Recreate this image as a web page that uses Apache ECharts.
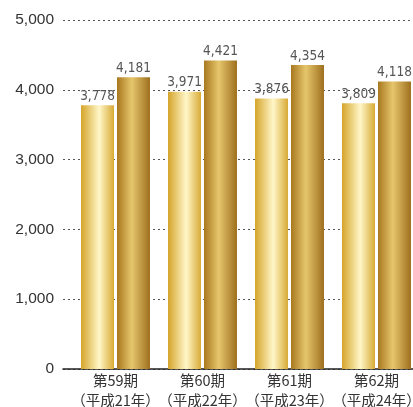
<!DOCTYPE html>
<html><head><meta charset="utf-8">
<script src="https://cdn.jsdelivr.net/npm/echarts@6/dist/echarts.min.js"></script>
<style>html,body{margin:0;padding:0;background:#fff}#c{width:413px;height:407px}</style>
</head><body><div id="c"></div>
<script>
const categories = ['第59期\n（平成21年）','第60期\n（平成22年）','第61期\n（平成23年）','第62期\n（平成24年）'];
const seriesA = [3778, 3971, 3876, 3809];
const seriesB = [4181, 4421, 4354, 4118];
const yTicks = {min: 0, max: 5000, interval: 1000};

const chart = echarts.init(document.getElementById('c'), null, {renderer: 'canvas'});
const gradA = new echarts.graphic.LinearGradient(0,0,1,0,[
  {offset:0,color:'#d5a42a'},{offset:0.55,color:'#fff7c8'},{offset:1,color:'#d8aa36'}]);
const gradB = new echarts.graphic.LinearGradient(0,0,1,0,[
  {offset:0,color:'#a8781f'},{offset:0.45,color:'#e6c66c'},{offset:1,color:'#9e6f1e'}]);
const lbl = {show:true, position:'top', distance:2, color:'#555', fontSize:13.5, fontWeight:200,
  fontFamily:'DejaVu Sans Condensed, sans-serif',
  formatter: p => p.value.toLocaleString('en-US')};
chart.setOption({
  animation:false,
  grid:[
    {left:63, right:0, top:20, bottom:38, outerBoundsMode:'none', containLabel:false},
    {left:72, width:348, top:20, bottom:38, outerBoundsMode:'none', containLabel:false}
  ],
  xAxis:[
    {gridIndex:0, type:'category', data:categories, axisLine:{lineStyle:{color:'#222',width:1.5}},
     axisTick:{show:false}, axisLabel:{show:false}},
    {gridIndex:1, type:'category', data:categories, axisLine:{show:false}, axisTick:{show:false},
     axisLabel:{color:'#333', fontSize:14.5, lineHeight:20, margin:1, interval:0,
       fontFamily:'Noto Sans CJK JP, sans-serif'}}
  ],
  yAxis:[
    {gridIndex:0, type:'value', min:yTicks.min, max:yTicks.max, interval:yTicks.interval,
     axisLine:{show:false}, axisTick:{show:false},
     axisLabel:{color:'#333', fontSize:15.5, margin:9, fontFamily:'Liberation Sans, sans-serif',
       formatter: v => v.toLocaleString('en-US')},
     splitLine:{lineStyle:{color:'#555', type:[2,3], width:1}}},
    {gridIndex:1, type:'value', min:yTicks.min, max:yTicks.max, interval:yTicks.interval,
     show:false, splitLine:{show:false}}
  ],
  series:[
    {type:'bar', xAxisIndex:1, yAxisIndex:1, data:seriesA, barWidth:33, barGap:'9%',
     itemStyle:{color:gradA}, label:lbl, z:3},
    {type:'bar', xAxisIndex:1, yAxisIndex:1, data:seriesB, barWidth:33, barGap:'9%',
     itemStyle:{color:gradB}, label:lbl, z:2}
  ]
});
</script></body></html>
